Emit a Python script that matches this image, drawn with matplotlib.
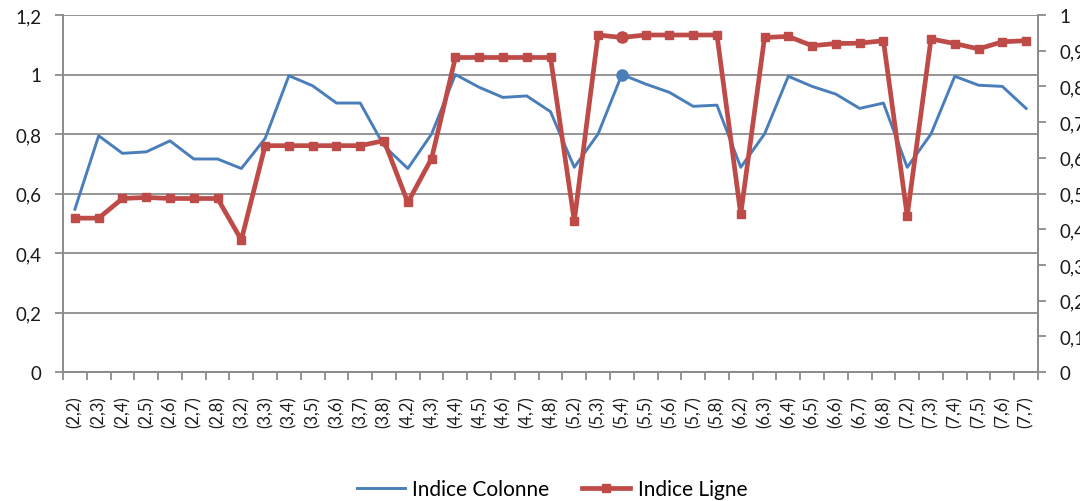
import matplotlib

matplotlib.use("Agg")
import matplotlib.pyplot as plt
from matplotlib.ticker import FixedLocator, FuncFormatter

# Category labels: (ligne, colonne) pairs
categories = [
    "(2,2)", "(2,3)", "(2,4)", "(2,5)", "(2,6)", "(2,7)", "(2,8)",
    "(3,2)", "(3,3)", "(3,4)", "(3,5)", "(3,6)", "(3,7)", "(3,8)",
    "(4,2)", "(4,3)", "(4,4)", "(4,5)", "(4,6)", "(4,7)", "(4,8)",
    "(5,2)", "(5,3)", "(5,4)", "(5,5)", "(5,6)", "(5,7)", "(5,8)",
    "(6,2)", "(6,3)", "(6,4)", "(6,5)", "(6,6)", "(6,7)", "(6,8)",
    "(7,2)", "(7,3)", "(7,4)", "(7,5)", "(7,6)", "(7,7)",
]

# Left axis series
indice_colonne = [
    0.547, 0.794, 0.735, 0.740, 0.777, 0.716, 0.716,
    0.684, 0.785, 0.996, 0.962, 0.904, 0.904, 0.760,
    0.684, 0.800, 1.000, 0.957, 0.923, 0.928, 0.875,
    0.688, 0.800, 1.000, 0.968, 0.940, 0.893, 0.897,
    0.688, 0.800, 0.994, 0.960, 0.934, 0.886, 0.904,
    0.688, 0.800, 0.994, 0.964, 0.960, 0.886,
]

# Right axis series
indice_ligne = [
    0.431, 0.431, 0.486, 0.489, 0.486, 0.486, 0.486,
    0.370, 0.634, 0.634, 0.634, 0.634, 0.634, 0.648,
    0.475, 0.598, 0.881, 0.881, 0.881, 0.881, 0.881,
    0.423, 0.944, 0.937, 0.944, 0.944, 0.944, 0.944,
    0.442, 0.937, 0.940, 0.914, 0.920, 0.921, 0.928,
    0.437, 0.933, 0.920, 0.905, 0.925, 0.928,
]

highlight = 23  # (5,4)

BLUE = "#4a7ebb"
RED = "#be4b48"
GRID = "#8c8c8c"
TEXT = "#1a1a1a"

plt.rcParams["font.family"] = ["Lato", "DejaVu Sans"]

fig = plt.figure(figsize=(10.8, 5.02), dpi=100)
ax = fig.add_axes([63 / 1080, (502 - 373) / 502, 975 / 1080, 357 / 502])
ax2 = ax.twinx()

x = list(range(len(categories)))

ax.plot(x, indice_colonne, color=BLUE, linewidth=2.1, zorder=3)
ax.plot([highlight], [indice_colonne[highlight]], "o", color=BLUE,
        markersize=8, zorder=4)

ax2.plot(x, indice_ligne, color=RED, linewidth=3.4, marker="s",
         markersize=6.2, zorder=3)
ax2.plot([highlight], [indice_ligne[highlight]], "o", color=RED,
         markersize=8, zorder=4)

comma = FuncFormatter(lambda v, _: f"{v:g}".replace(".", ","))

# Left axis
ax.set_ylim(0, 1.2)
ax.set_yticks([0, 0.2, 0.4, 0.6, 0.8, 1.0, 1.2])
ax.yaxis.set_major_formatter(comma)
ax.grid(axis="y", color=GRID, linewidth=1.3)
ax.set_axisbelow(True)

# Right axis
ax2.set_ylim(0, 1.0)
ax2.set_yticks([i / 10 for i in range(11)])
ax2.yaxis.set_major_formatter(comma)

# Category axis: ticks on boundaries, labels at centres
ax.set_xlim(-0.5, len(categories) - 0.5)
ax.xaxis.set_major_locator(FixedLocator([i - 0.5 for i in range(len(categories) + 1)]))
ax.xaxis.set_major_formatter(FuncFormatter(lambda v, _: ""))
ax.xaxis.set_minor_locator(FixedLocator(x))
ax.set_xticklabels(categories, minor=True, rotation=90, fontsize=12,
                   color=TEXT)
ax.tick_params(axis="x", which="minor", length=0, pad=17)
ax.tick_params(axis="x", which="major", length=6, width=1.3, color=GRID)

for a in (ax, ax2):
    for side in ("left", "right", "bottom"):
        a.spines[side].set_color(GRID)
        a.spines[side].set_linewidth(1.3)
    a.spines["top"].set_visible(False)

ax.tick_params(axis="y", length=5.5, width=1.3, color=GRID, pad=10,
               labelsize=13.5, labelcolor=TEXT)
ax2.tick_params(axis="y", length=5.5, width=1.3, color=GRID, pad=10,
                labelsize=13.5, labelcolor=TEXT)

# Legend below the plot
h1, = ax.plot([], [], color=BLUE, linewidth=2.1, label="Indice Colonne")
h2, = ax.plot([], [], color=RED, linewidth=3.4, marker="s", markersize=6.2,
              label="Indice Ligne")
fig.legend(handles=[h1, h2], loc="center",
           bbox_to_anchor=(552 / 1080, 1 - 490 / 502),
           ncol=2, frameon=False, fontsize=15, handlelength=2.3,
           columnspacing=1.6, handletextpad=0.35)

fig.savefig("out.png", dpi=100)
plt.close(fig)
